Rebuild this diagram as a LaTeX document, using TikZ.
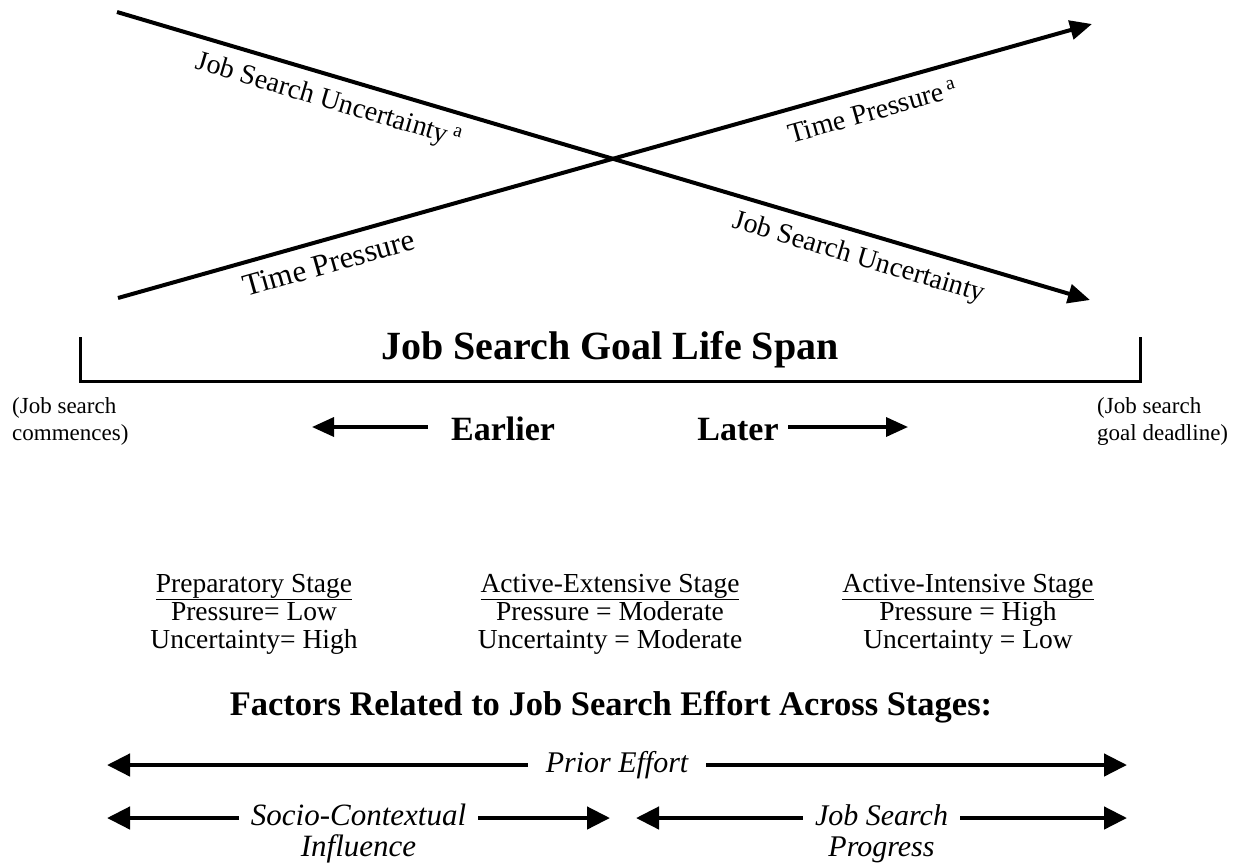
\documentclass[tikz,border=0pt]{standalone}
\usepackage{fontspec}
\setmainfont{Liberation Serif}
\usetikzlibrary{arrows.meta,
	calc,
	positioning}

\tikzset{
	trend/.style={line width=4pt, -{Triangle[length=22pt, width=19pt]}},
	spanarrow/.style={line width=3.5pt, -{Triangle[length=22pt, width=19pt]}},
	factor/.style={line width=4.5pt, {Triangle[length=23pt, width=22pt]}-{Triangle[length=23pt, width=22pt]}},
	lbl/.style={font=\fontsize{28}{30}\selectfont, inner sep=2pt},
	stage/.style={align=center, font=\fontsize{27.5}{28}\selectfont},
	note/.style={anchor=north west, align=left, inner sep=0pt, font=\fontsize{23}{27}\selectfont},
	when/.style={anchor=base, font=\fontsize{34}{36}\selectfont\bfseries},
	gap/.style={fill=white, align=center, font=\fontsize{30}{31}\selectfont\itshape}
}

\begin{document}
\begin{tikzpicture}[x=1pt, y=-1pt]
	\useasboundingbox (0, 0) rectangle (1247, 865);
	% the two crossing trends
	\coordinate (unc0) at (117, 12);
	\coordinate (unc1) at (1090, 300);
	\coordinate (tp0) at (118, 298);
	\coordinate (tp1) at (1092, 24);
	\draw[trend] (unc0) -- (unc1)
		node[lbl, sloped, below=9pt, pos=0.225] (uncA) {Job Search Uncertainty\,\textsuperscript{a}}
		node[lbl, sloped, below=9pt, pos=0.77] (uncB) {Job Search Uncertainty};
	\draw[trend] (tp0) -- (tp1)
		node[lbl, sloped, below=9pt, pos=0.21, font=\fontsize{31}{32}\selectfont] (tpB) {Time Pressure}
		node[lbl, sloped, below=11pt, pos=0.768] (tpA) {Time Pressure\,\textsuperscript{a}};

	% life span bracket
	\coordinate (brl) at (80, 337);
	\coordinate (brr) at (1140, 337);
	\draw[line width=3pt] (brl) -- ++(0, 44) -| (brr);
	\node[font=\fontsize{40}{42}\selectfont\bfseries] (lifespan) at (610, 350) {Job Search Goal Life Span};
	\node[note] (begin) at (12, 397) {(Job search\\commences)};
	\node[note] (deadline) at (1097, 397) {(Job search\\goal deadline)};

	% earlier / later
	\node[when] (earlier) at (503, 440) {Earlier};
	\node[when] (later) at (738, 440) {Later};
	\coordinate (earlyend) at (312, 427);
	\coordinate (lateend) at (908, 427);
	\draw[spanarrow, shorten <=20pt] (earlier.west |- earlyend) -- (earlyend);
	\draw[spanarrow, shorten <=6pt] (later.east |- lateend) -- (lateend);

	% stages
	\node[stage] (prep) at (254, 614) {\underline{Preparatory Stage}\\Pressure= Low\\Uncertainty= High};
	\node[stage] (extensive) at (610, 614) {\underline{Active-Extensive Stage}\\Pressure = Moderate\\Uncertainty = Moderate};
	\node[stage] (intensive) at (968, 614) {\underline{Active-Intensive Stage}\\Pressure = High\\Uncertainty = Low};

	% factors
	\node[font=\fontsize{34.5}{36}\selectfont\bfseries] (factors) at (611, 707) {Factors Related to Job Search Effort Across Stages:};
	\coordinate (pe0) at (107, 765);
	\coordinate (pe1) at (1127, 765);
	\draw[factor] (pe0) -- (pe1) node[gap, pos=0.5, inner xsep=18pt, font=\fontsize{30}{31}\selectfont\itshape] (prior) {Prior Effort};
	\coordinate (sc0) at (107, 818);
	\coordinate (sc1) at (610, 818);
	\draw[factor] (sc0) -- (sc1) node[gap, midway, inner xsep=12pt, yshift=-16pt, font=\fontsize{31}{31}\selectfont\itshape] (socio) {Socio-Contextual\\Influence};
	\coordinate (jp0) at (636, 818);
	\coordinate (jp1) at (1127, 818);
	\draw[factor] (jp0) -- (jp1) node[gap, midway, inner xsep=12pt, yshift=-16pt] (progress) {Job Search\\Progress};
\end{tikzpicture}
\end{document}
